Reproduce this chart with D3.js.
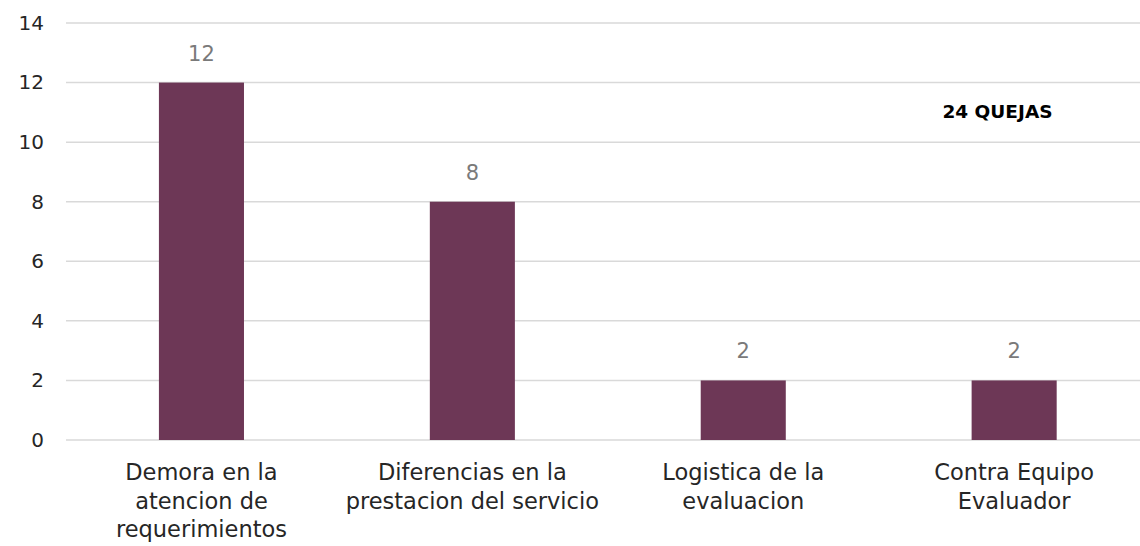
<!DOCTYPE html>
<html><head><meta charset="utf-8">
<script src="https://cdn.jsdelivr.net/npm/d3@7"></script>
<style>body{margin:0;background:#fff}svg{display:block}</style>
</head><body><svg id="c" width="1140" height="546"></svg>
<script>
const categories = [["Demora en la","atencion de","requerimientos"],["Diferencias en la","prestacion del servicio"],["Logistica de la","evaluacion"],["Contra Equipo","Evaluador"]];
const values = [12, 8, 2, 2];
const yTicks = [0, 2, 4, 6, 8, 10, 12, 14];
const annotation = "24 QUEJAS";

const svg = d3.select("#c");
const font = "'DejaVu Sans', sans-serif";
const keys = categories.map((c,i)=>i);
const x = d3.scaleBand().domain(keys).range([66, 1149.6]).paddingInner(0).paddingOuter(0);
const y = d3.scaleLinear().domain([0,14]).range([440, 23]);
const barW = x.bandwidth()*0.314;

const grid = svg.append("g");
grid.selectAll("line").data(yTicks).join("line")
  .attr("x1",66).attr("x2",1140)
  .attr("y1",d=>y(d)).attr("y2",d=>y(d))
  .attr("stroke","#d9d9d9").attr("stroke-width",1.5);

const yAxis = svg.append("g").attr("transform","translate(44,0)")
  .call(d3.axisLeft(y).tickValues(yTicks).tickSize(0).tickPadding(0));
yAxis.select(".domain").remove();
yAxis.selectAll("text").attr("font-family",font).attr("font-size",20).attr("fill","#262626");

svg.selectAll("rect.bar").data(values).join("rect").attr("class","bar")
  .attr("x",(d,i)=>x(i)+x.bandwidth()/2-barW/2)
  .attr("width",barW)
  .attr("y",d=>y(d)).attr("height",d=>y(0)-y(d))
  .attr("fill","#6d3756");

svg.selectAll("text.val").data(values).join("text").attr("class","val")
  .attr("x",(d,i)=>x(i)+x.bandwidth()/2)
  .attr("y",d=>y(d)-22)
  .attr("text-anchor","middle").attr("font-family",font).attr("font-size",21)
  .attr("fill","#7a7a7a").text(d=>d);

const cat = svg.selectAll("text.cat").data(categories).join("text").attr("class","cat")
  .attr("text-anchor","middle").attr("font-family",font).attr("font-size",22.5).attr("fill","#262626");
cat.each(function(lines,i){
  d3.select(this).selectAll("tspan").data(lines).join("tspan")
    .attr("x",x(i)+x.bandwidth()/2)
    .attr("y",(l,j)=>480+j*28.5)
    .text(l=>l);
});

svg.append("text").attr("x",997.5).attr("y",118).attr("text-anchor","middle")
  .attr("font-family",font).attr("font-weight","bold").attr("font-size",18.5)
  .attr("fill","#000").text(annotation);
</script></body></html>
